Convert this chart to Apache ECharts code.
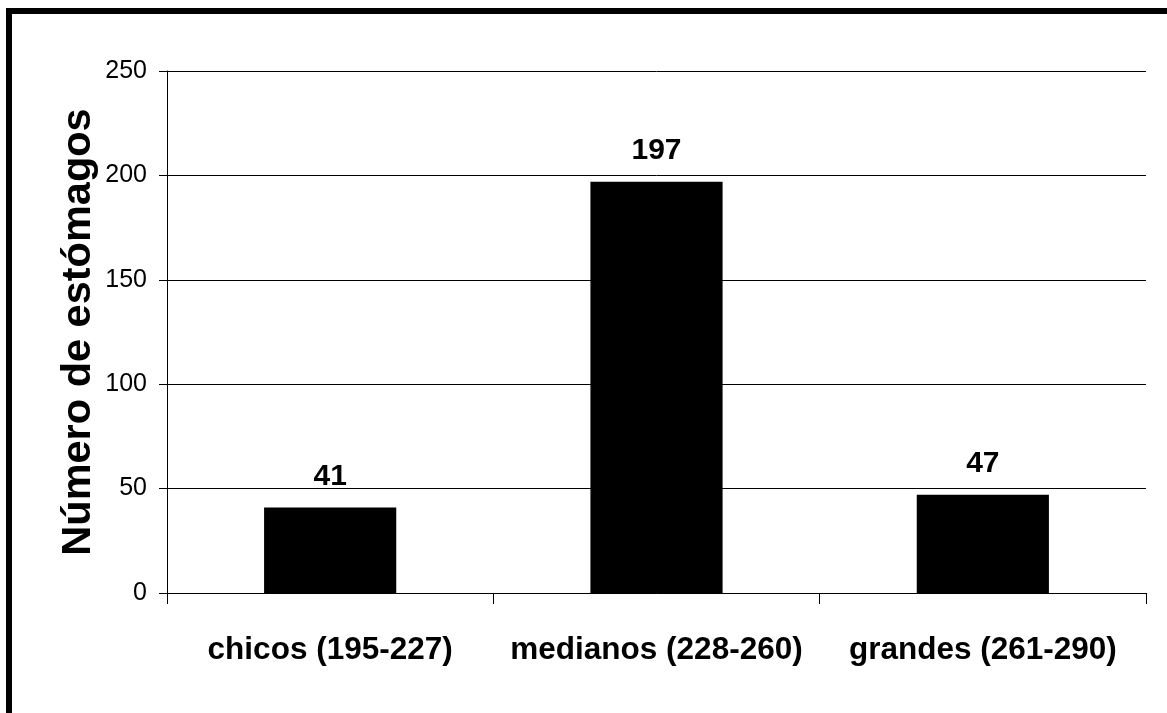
<!DOCTYPE html>
<html>
<head>
<meta charset="utf-8">
<script src="https://cdn.jsdelivr.net/npm/echarts@6/dist/echarts.min.js"></script>
<style>
  html, body { margin: 0; padding: 0; background: #fff; }
  #chart { width: 1167px; height: 713px; }
</style>
</head>
<body>
<div id="chart"></div>
<script>
// Stomach counts by fish size class
const categories = ['chicos (195-227)', 'medianos (228-260)', 'grandes (261-290)'];
const counts = [41, 197, 47];
const yTicks = { min: 0, max: 250, interval: 50 };
const yTitle = 'Número de estómagos';

const FONT = '"Liberation Sans", Arial, sans-serif';

const chart = echarts.init(document.getElementById('chart'), null, { renderer: 'canvas' });

chart.setOption({
  backgroundColor: '#ffffff',
  animation: false,
  textStyle: { fontFamily: FONT, color: '#000' },
  graphic: [
    // frame along the left and top edges
    { type: 'rect', shape: { x: 6, y: 8, width: 6, height: 705 }, style: { fill: '#000' }, silent: true },
    { type: 'rect', shape: { x: 6, y: 8, width: 1161, height: 6 }, style: { fill: '#000' }, silent: true }
  ],
  grid: { left: 167, top: 71, width: 979, height: 522, containLabel: false },
  xAxis: {
    type: 'category',
    data: categories,
    boundaryGap: true,
    axisLine: { show: true, lineStyle: { color: '#000', width: 1 } },
    axisTick: { show: true, length: 11, inside: false, alignWithLabel: false, lineStyle: { color: '#000', width: 1 } },
    axisLabel: {
      show: true,
      margin: 41,
      fontFamily: FONT,
      fontSize: 31.5,
      fontWeight: 'bold',
      color: '#000',
      interval: 0
    },
    splitLine: { show: false }
  },
  yAxis: {
    type: 'value',
    min: yTicks.min,
    max: yTicks.max,
    interval: yTicks.interval,
    name: yTitle,
    nameLocation: 'middle',
    nameGap: 67,
    nameMoveOverlap: false,
    nameRotate: 90,
    nameTextStyle: { fontFamily: FONT, fontSize: 41.5, fontWeight: 'bold', color: '#000' },
    axisLine: { show: true, lineStyle: { color: '#000', width: 1 } },
    axisTick: { show: true, length: 8, inside: false, lineStyle: { color: '#000', width: 1 } },
    axisLabel: { margin: 20, fontFamily: FONT, fontSize: 25, color: '#000' },
    splitLine: { show: true, lineStyle: { color: '#000', width: 1 } }
  },
  series: [{
    type: 'bar',
    data: counts,
    barWidth: '40.5%',
    itemStyle: { color: '#000', borderColor: '#000', borderWidth: 0 },
    label: {
      show: true,
      position: 'top',
      distance: 16,
      fontFamily: FONT,
      fontSize: 30,
      fontWeight: 'bold',
      color: '#000'
    }
  }]
});
</script>
</body>
</html>
